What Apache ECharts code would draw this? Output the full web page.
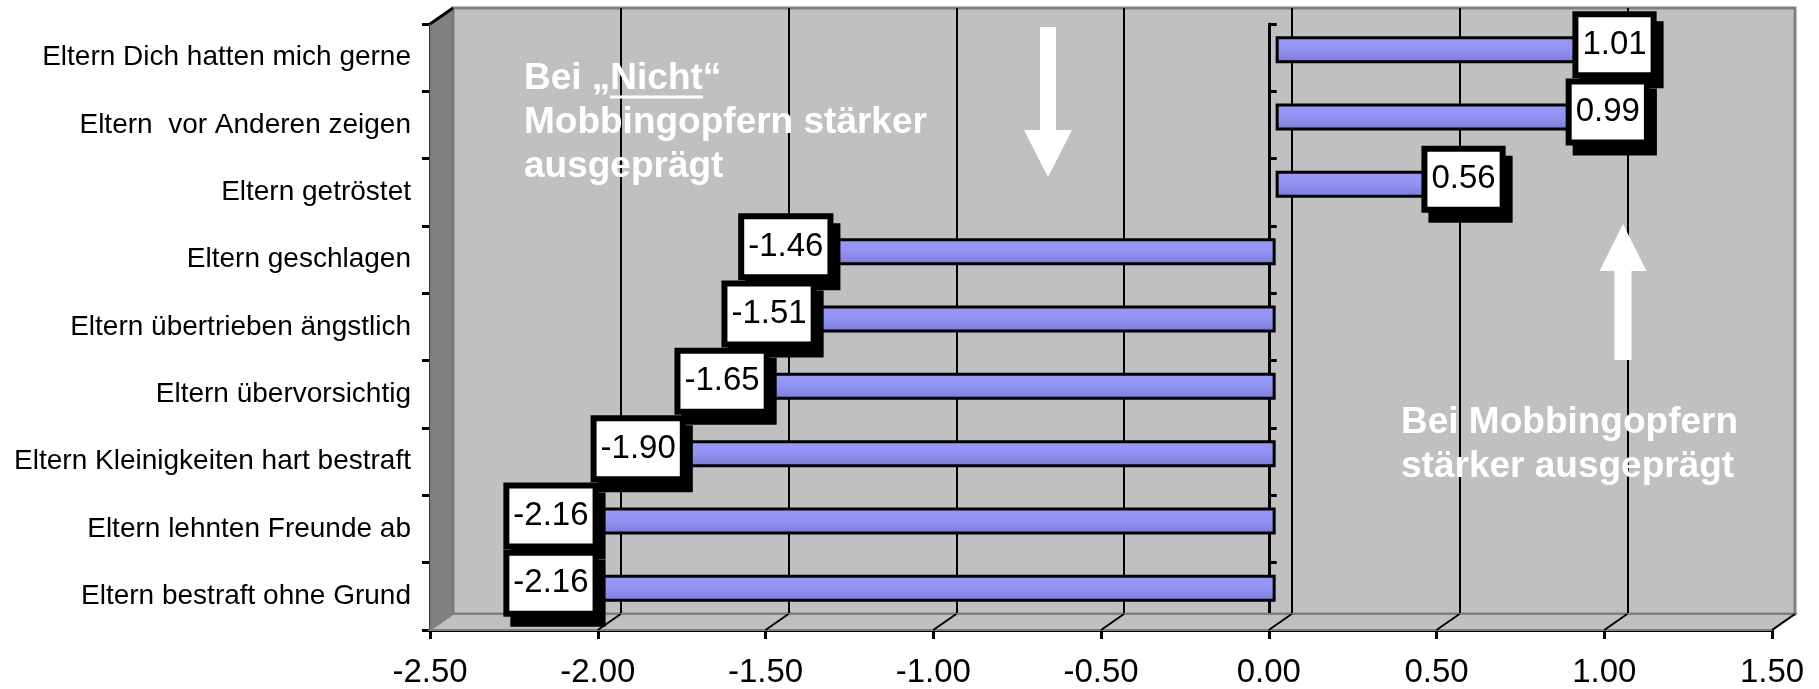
<!DOCTYPE html>
<html>
<head>
<meta charset="utf-8">
<script src="https://cdn.jsdelivr.net/npm/echarts@6/dist/echarts.min.js"></script>
<style>
  html, body { margin: 0; padding: 0; background: #fff; }
  #chart { width: 1819px; height: 689px; }
</style>
</head>
<body>
<div id="chart"></div>
<script>
// categories top to bottom
var categories = [
  'Eltern Dich hatten mich gerne',
  'Eltern  vor Anderen zeigen',
  'Eltern getröstet',
  'Eltern geschlagen',
  'Eltern übertrieben ängstlich',
  'Eltern übervorsichtig',
  'Eltern Kleinigkeiten hart bestraft',
  'Eltern lehnten Freunde ab',
  'Eltern bestraft ohne Grund'
]
var values = [1.01, 0.99, 0.56, -1.46, -1.51, -1.65, -1.90, -2.16, -2.16]
var xMin = -2.5
var xMax = 1.5
var xStep = 0.5
var noteLeft = ['Bei „Nicht“', 'Mobbingopfern stärker', 'ausgeprägt']
var noteRight = ['Bei Mobbingopfern', 'stärker ausgeprägt']

// pseudo 3d layout
var front = { left: 430, top: 24, width: 1342, height: 606 }
var depth = { x: 23, y: -16 }
var font = '"Liberation Sans", Arial, sans-serif'

function shifted(fx, fy) {
  return {
    left: front.left + depth.x * fx,
    top: front.top + depth.y * fy,
    width: front.width,
    height: front.height
  }
}

var chart = echarts.init(document.getElementById('chart'))

var hiddenX = { type: 'value', min: xMin, max: xMax, interval: xStep, show: false }
var hiddenY = { type: 'category', data: categories, inverse: true, show: false }

chart.setOption({
  animation: false,
  grid: [
    Object.assign({ show: false }, front),
    Object.assign({ show: true, backgroundColor: '#c0c0c0', borderColor: '#808080', borderWidth: 3 }, shifted(1, 1)),
    Object.assign({ show: false }, shifted(0.3, 0.5))
  ],
  xAxis: [
    {
      gridIndex: 0,
      type: 'value',
      min: xMin,
      max: xMax,
      interval: xStep,
      axisLine: { show: true, lineStyle: { color: '#000', width: 3 } },
      axisTick: { show: true, length: 9, lineStyle: { color: '#000', width: 3 } },
      axisLabel: {
        margin: 26,
        color: '#000',
        fontSize: 33,
        fontFamily: font,
        formatter: function (v) { return v.toFixed(2) }
      },
      splitLine: { show: false }
    },
    {
      gridIndex: 1,
      type: 'value',
      min: xMin,
      max: xMax,
      interval: xStep,
      axisLine: { show: false },
      axisTick: { show: false },
      axisLabel: { show: false },
      splitLine: { show: true, showMinLine: false, showMaxLine: false, lineStyle: { color: '#000', width: 2 } }
    },
    Object.assign({ gridIndex: 2 }, hiddenX)
  ],
  yAxis: [
    {
      gridIndex: 0,
      type: 'category',
      data: categories,
      inverse: true,
      axisLine: { show: true, onZero: false, lineStyle: { color: '#000', width: 3 } },
      axisTick: { show: true, length: 8, lineStyle: { color: '#000', width: 3 } },
      axisLabel: { margin: 19, color: '#000', fontSize: 28, fontFamily: font }
    },
    {
      gridIndex: 0,
      type: 'category',
      data: categories,
      inverse: true,
      axisLine: { show: true, onZero: true, onZeroAxisIndex: 0, lineStyle: { color: '#000', width: 3 } },
      axisTick: { show: true, length: 8, lineStyle: { color: '#000', width: 3 } },
      axisLabel: { show: false }
    },
    Object.assign({ gridIndex: 1 }, hiddenY),
    Object.assign({ gridIndex: 2 }, hiddenY)
  ],
  series: [
    {
      type: 'bar',
      xAxisIndex: 2,
      yAxisIndex: 3,
      data: values,
      barWidth: 27,
      itemStyle: {
        borderColor: '#000',
        borderWidth: 3,
        color: new echarts.graphic.LinearGradient(0, 0, 0, 1, [
          { offset: 0, color: '#9a9aff' },
          { offset: 0.5, color: '#9292f2' },
          { offset: 1, color: '#7a7ad4' }
        ])
      },
      z: 3
    },
    {
      type: 'scatter',
      xAxisIndex: 2,
      yAxisIndex: 3,
      symbolSize: 1,
      itemStyle: { color: 'rgba(0,0,0,0)', opacity: 1 },
      data: values.map(function (v, i) { return [v, categories[i]] }),
      label: {
        show: true,
        opacity: 1,
        position: 'inside',
        offset: [0, -5],
        formatter: function (p) { return p.value[0].toFixed(2) },
        color: '#000',
        fontSize: 33,
        fontFamily: font,
        lineHeight: 34,
        backgroundColor: '#fff',
        borderColor: '#000',
        borderWidth: 6,
        padding: [11, 4, 10, 4],
        shadowColor: '#000',
        shadowBlur: 0,
        shadowOffsetX: 7,
        shadowOffsetY: 10
      },
      emphasis: { disabled: true },
      z: 5
    }
  ]
})

// walls, floor, notes and arrows
var x0 = front.left
var x1 = front.left + front.width
var y0 = front.top
var y1 = front.top + front.height
var dx = depth.x
var dy = depth.y
var gfx = []

gfx.push({
  type: 'polygon', z: 1, silent: true,
  shape: { points: [[x0, y0], [x0 + dx, y0 + dy], [x0 + dx, y1 + dy], [x0, y1]] },
  style: { fill: '#808080', stroke: '#707070', lineWidth: 1 }
})
gfx.push({
  type: 'polyline', z: 6, silent: true,
  shape: { points: [[x0, y0], [x0 + dx, y0 + dy]] },
  style: { stroke: '#000', lineWidth: 3 }
})
gfx.push({
  type: 'polygon', z: 1, silent: true,
  shape: { points: [[x0, y1], [x0 + dx, y1 + dy], [x1 + dx, y1 + dy], [x1, y1]] },
  style: { fill: '#c0c0c0', stroke: '#808080', lineWidth: 2 }
})
for (var v = xMin; v <= xMax + 1e-9; v += xStep) {
  var px = chart.convertToPixel({ xAxisIndex: 0 }, v)
  if (v > xMin + 1e-9) {
    gfx.push({
      type: 'line', z: 2, silent: true,
      shape: { x1: px, y1: y1, x2: px + dx, y2: y1 + dy },
      style: { stroke: '#000', lineWidth: 2 }
    })
  }
}

function arrow(cx, tipY, baseY, endY, shaft, head) {
  return {
    type: 'polygon', z: 6, silent: true,
    shape: {
      points: [
        [cx, tipY],
        [cx + head / 2, baseY],
        [cx + shaft / 2, baseY],
        [cx + shaft / 2, endY],
        [cx - shaft / 2, endY],
        [cx - shaft / 2, baseY],
        [cx - head / 2, baseY]
      ]
    },
    style: { fill: '#fff' }
  }
}
gfx.push(arrow(1048, 177, 130, 27, 16, 48))
gfx.push(arrow(1623, 224, 271, 360, 17, 47))

var noteFont = 'bold 37px ' + font
gfx.push({
  type: 'text', z: 7, silent: true,
  style: { x: 524, y: 57, text: noteLeft.join('\n'), font: noteFont, lineHeight: 44, fill: '#fff', verticalAlign: 'top' }
})
gfx.push({
  type: 'line', z: 7, silent: true,
  shape: { x1: 610, y1: 97, x2: 703, y2: 97 },
  style: { stroke: '#fff', lineWidth: 3 }
})
gfx.push({
  type: 'text', z: 7, silent: true,
  style: { x: 1401, y: 401, text: noteRight.join('\n'), font: noteFont, lineHeight: 44, fill: '#fff', verticalAlign: 'top' }
})

chart.setOption({ graphic: gfx })
</script>
</body>
</html>
